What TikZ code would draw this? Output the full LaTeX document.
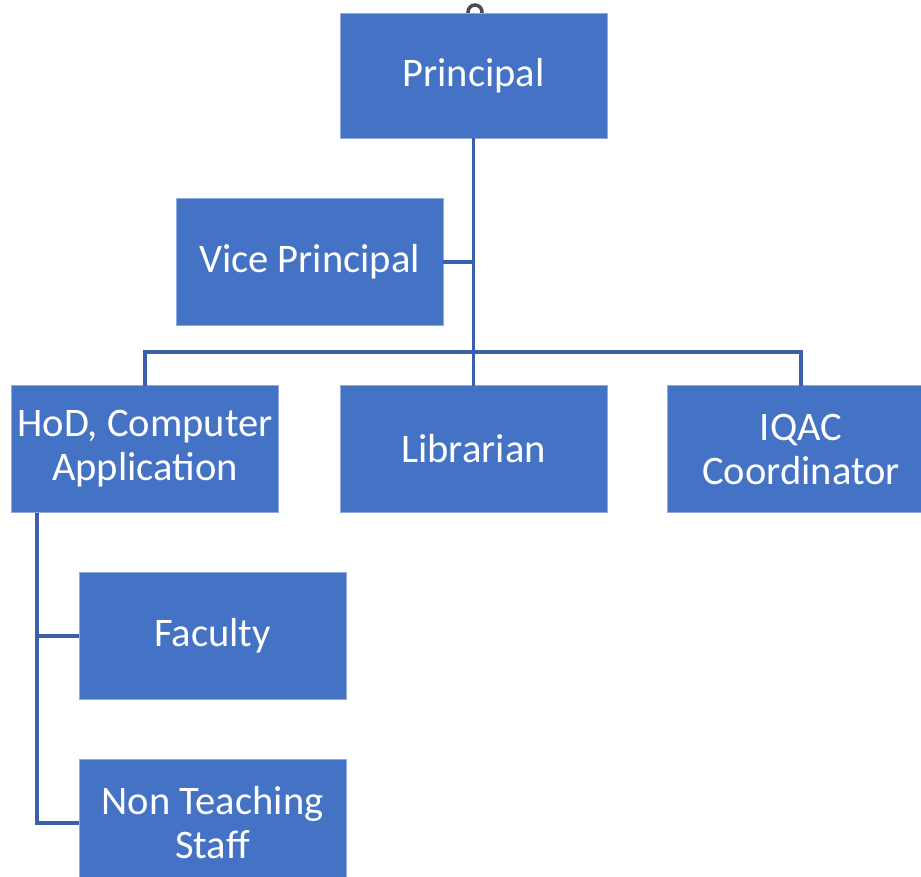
\documentclass[tikz,border=0pt]{standalone}
\usepackage{fontspec}
\setmainfont{Carlito}
\definecolor{boxblue}{HTML}{4472C4}
\definecolor{lineblue}{HTML}{3B5FA8}
\begin{document}
\begin{tikzpicture}[x=0.75pt,y=-0.75pt,
  box/.style={fill=boxblue,draw=boxblue!60!white,line width=0.5pt,minimum width=267*0.75pt,minimum height=127*0.75pt,
    text=white,align=center,font=\fontsize{30.4}{33}\selectfont,inner sep=0pt,outer sep=0pt},
  conn/.style={draw=lineblue,line width=2.6pt}]
\useasboundingbox (0,0) rectangle (921,876);
\draw[gray!60!black,line width=2.6pt,fill=white] (475,12) circle (7);
\node[box,minimum height=125*0.75pt] (P) at (473.5,75.5) {\raisebox{-2pt}{Principal}};
\node[box] (VP) at (309.5,262) {\raisebox{-2pt}{Vice Principal}};
\node[box] (H) at (145,449) {HoD, Computer\\Application};
\node[box] (L) at (473.5,449) {Librarian};
\node[box] (Q) at (801,449) {IQAC\\Coordinator};
\node[box] (F) at (212.5,636) {\raisebox{-2pt}{Faculty}};
\node[box] (N) at (212.5,823) {Non Teaching\\Staff};
\coordinate (j) at (473.5,352);
\coordinate (hx) at (37,513);
\draw[conn] (P.south) -- (L.north);
\draw[conn] (VP.east) -- (VP.east -| P.south);
\draw[conn] (H.north) |- (j) -| (Q.north);
\draw[conn] (hx) |- (F.west);
\draw[conn] (hx) |- (N.west);
\end{tikzpicture}
\end{document}
